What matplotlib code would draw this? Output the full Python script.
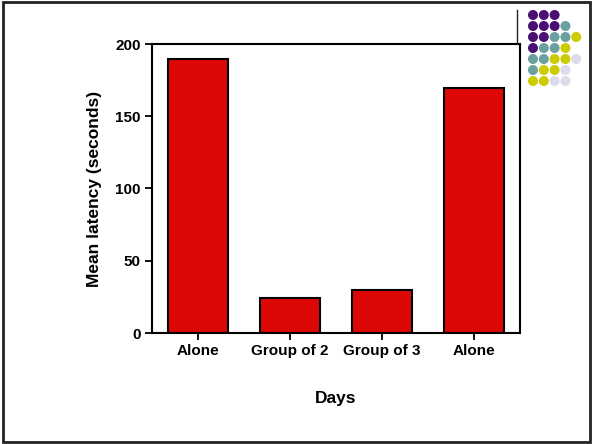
import matplotlib
matplotlib.use("Agg")
import matplotlib.pyplot as plt
from matplotlib.patches import Rectangle, Ellipse
from matplotlib.lines import Line2D

categories = ["Alone", "Group of 2", "Group of 3", "Alone"]
latency = [189.5, 24.5, 29.5, 169.5]
y_ticks = [0, 50, 100, 150, 200]

# decorative dot grid (rows of colour codes)
dot_rows = [
    "PPP",
    "PPPT",
    "PPTTY",
    "PTTY",
    "TTYYL",
    "TYYL",
    "YYLL",
]
dot_colors = {"P": "#4a0f73", "T": "#6b9fa0", "Y": "#cccc00", "L": "#dcdcec"}

plt.rcParams['font.family'] = ['Liberation Sans', 'DejaVu Sans']

fig = plt.figure(figsize=(5.92, 4.44), dpi=100)
W, H = 592, 444

# slide frame
fig.add_artist(Rectangle((2.5 / W, 2.5 / H), (W - 5) / W, (H - 5) / H,
                         transform=fig.transFigure, fill=False,
                         edgecolor="#222222", linewidth=2.0))
fig.add_artist(Line2D([516.5 / W, 516.5 / W], [1 - 10 / H, 1 - 44 / H],
                      transform=fig.transFigure, color="#222222", linewidth=1.0))

# dots
for r, row in enumerate(dot_rows):
    for c, code in enumerate(row):
        x = 533 + c * 10.8
        y = 15 + r * 11
        fig.add_artist(Ellipse((x / W, 1 - y / H), 8.6 / W, 8.6 / H,
                               transform=fig.transFigure,
                               color=dot_colors[code]))

ax = fig.add_axes([152 / W, 1 - 333 / H, 368 / W, 289 / H])
x = range(len(categories))
ax.bar(x, latency, width=0.66, color="#dd0806", edgecolor="black", linewidth=1.5)
ax.set_xlim(-0.5, 3.5)
ax.set_ylim(0, 200)
ax.set_yticks(y_ticks)
ax.set_xticks(list(x))
ax.set_xticklabels(categories)
for s in ax.spines.values():
    s.set_linewidth(1.5)
ax.tick_params(axis="both", direction="out", length=5, width=1.3,
               labelsize=11, pad=3)
for lbl in ax.get_xticklabels() + ax.get_yticklabels():
    lbl.set_fontweight("bold")
ax.set_ylabel("Mean latency (seconds)", fontsize=12.5, fontweight="bold", labelpad=10)
ax.set_xlabel("Days", fontsize=12.5, fontweight="bold", labelpad=24)

fig.savefig("out.png", dpi=100)
